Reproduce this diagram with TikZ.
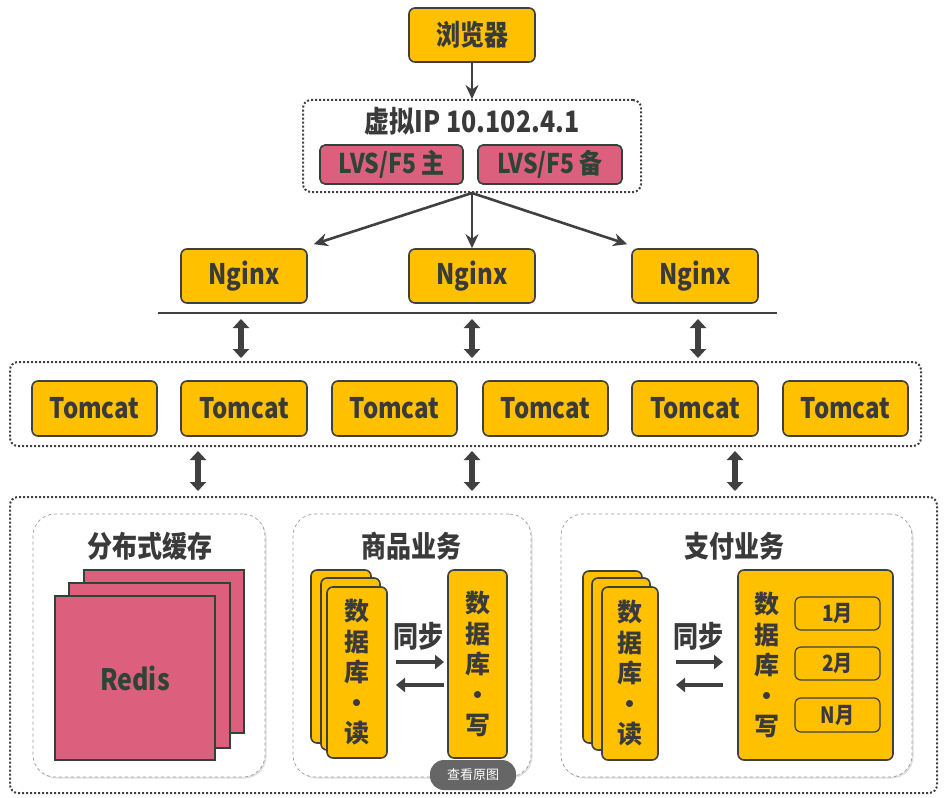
\documentclass[tikz,border=0pt]{standalone}
\usepackage{fontspec}
\setmainfont{Noto Sans CJK SC}
\usetikzlibrary{arrows.meta,shadows}
\definecolor{org}{HTML}{FFC000}
\definecolor{pnk}{HTML}{DC607D}
\definecolor{edg}{HTML}{404040}
\definecolor{txt}{HTML}{3A3A3A}
\definecolor{grn}{HTML}{2E4436}
\newcommand{\tl}[1]{\scalebox{1}[1.18]{#1}}
\tikzset{
  obox/.style={draw=edg, fill=org, line width=1.6pt, rounded corners=6pt, text=txt, font=\fontsize{24}{24}\selectfont\bfseries, inner sep=0pt},
  pbox/.style={draw=grn, fill=pnk, line width=1.6pt, rounded corners=5pt, text=grn, font=\fontsize{23}{23}\selectfont\bfseries, inner sep=0pt},
  dotbox/.style={draw=edg, line width=2pt, dotted, rounded corners=8pt},
  inbox/.style={draw=gray!80, line width=0.7pt, dashed, rounded corners=22pt, fill=white, drop shadow={opacity=0.25, shadow xshift=1.5pt, shadow yshift=-1.5pt}},
  ttl/.style={text=txt, font=\fontsize{25}{25}\selectfont\bfseries, inner sep=0pt},
  arr/.style={draw=edg, line width=2.6pt, -{Stealth[length=14pt,width=13pt]}},
  darr/.style={draw=edg, line width=5.5pt, {Triangle[length=9pt,width=16pt]}-{Triangle[length=9pt,width=16pt]}},
  sarr/.style={draw=edg, line width=3.4pt, -{Triangle[length=9pt,width=14pt]}},
  vtext/.style={align=center, text=txt, font=\fontsize{25}{30.5}\selectfont\bfseries, inner sep=0pt},
  sqr/.style={draw=grn, fill=pnk, line width=2pt},
}
\begin{document}
\begin{tikzpicture}[x=1pt,y=-1pt]
\useasboundingbox (0,0) rectangle (949,797);
% browser
\node[obox, minimum width=126pt, minimum height=54pt] (browser) at (472,35) {\tl{浏览器}};
% virtual ip
\node[dotbox, minimum width=338pt, minimum height=92pt] (vip) at (472,146) {};
\node[ttl] (viptitle) at (472,121) {\tl{虚拟IP 10.102.4.1}};
\node[pbox, minimum width=143pt, minimum height=39pt] (lvs1) at (391.5,164.5) {\tl{LVS/F5 主}};
\node[pbox, minimum width=144pt, minimum height=39pt] (lvs2) at (550,164.5) {\tl{LVS/F5 备}};
\draw[arr] (browser.south) -- (vip.north);
% nginx
\node[obox, minimum width=126pt, minimum height=54pt] (ng1) at (244,276) {\tl{Nginx}};
\node[obox, minimum width=126pt, minimum height=54pt] (ng2) at (472,276) {\tl{Nginx}};
\node[obox, minimum width=126pt, minimum height=54pt] (ng3) at (695,276) {\tl{Nginx}};
\draw[arr] (vip.south) -- ([xshift=6pt,yshift=4pt]ng1.north east);
\draw[arr] (vip.south) -- (ng2.north);
\draw[arr] (vip.south) -- ([xshift=-4pt,yshift=4pt]ng3.north west);
\coordinate (busL) at (158,313);
\coordinate (busR) at (777,313);
\draw[edg, line width=2.6pt] (busL) -- (busR);
% tomcat group
\node[dotbox, minimum width=911pt, minimum height=84pt] (tgrp) at (465.5,404) {};
\node[obox, minimum width=125pt, minimum height=55pt] (t1) at (94.5,408.5) {\tl{Tomcat}};
\node[obox, minimum width=126pt, minimum height=55pt] (t2) at (244,408.5) {\tl{Tomcat}};
\node[obox, minimum width=125pt, minimum height=55pt] (t3) at (394.5,408.5) {\tl{Tomcat}};
\node[obox, minimum width=125pt, minimum height=55pt] (t4) at (545.5,408.5) {\tl{Tomcat}};
\node[obox, minimum width=126pt, minimum height=55pt] (t5) at (695,408.5) {\tl{Tomcat}};
\node[obox, minimum width=125pt, minimum height=55pt] (t6) at (845.5,408.5) {\tl{Tomcat}};
\coordinate (a1t) at (241,319); \coordinate (a1b) at (241,358);
\coordinate (a2t) at (472,319); \coordinate (a2b) at (472,358);
\coordinate (a3t) at (698,319); \coordinate (a3b) at (698,358);
\draw[darr] (a1t) -- (a1b);
\draw[darr] (a2t) -- (a2b);
\draw[darr] (a3t) -- (a3b);
\coordinate (b1t) at (198,451); \coordinate (b1b) at (198,491);
\coordinate (b2t) at (472,451); \coordinate (b2b) at (472,491);
\coordinate (b3t) at (735,451); \coordinate (b3b) at (735,491);
\draw[darr] (b1t) -- (b1b);
\draw[darr] (b2t) -- (b2b);
\draw[darr] (b3t) -- (b3b);
% bottom group
\node[dotbox, minimum width=927pt, minimum height=296pt] (bgrp) at (473.5,645) {};
\node[inbox, minimum width=232pt, minimum height=263pt] (cache) at (149,645.5) {};
\node[inbox, minimum width=238pt, minimum height=263pt] (prod) at (412,645.5) {};
\node[inbox, minimum width=351pt, minimum height=263pt] (pay) at (736.5,645.5) {};
\node[ttl] (cachet) at (150,546) {\tl{分布式缓存}};
\node[ttl] (prodt) at (411,546) {\tl{商品业务}};
\node[ttl] (payt) at (734,546) {\tl{支付业务}};
% redis
\node[sqr, minimum width=160pt, minimum height=163pt, inner sep=0pt] (r3) at (164,651.5) {};
\node[sqr, minimum width=161pt, minimum height=165pt, inner sep=0pt] (r2) at (149.5,665.5) {};
\node[sqr, minimum width=160pt, minimum height=164pt, inner sep=0pt, text=grn, font=\fontsize{25}{25}\selectfont\bfseries] (r1) at (135,678) {\tl{Redis}};
% product dbs
\node[obox, minimum width=60pt, minimum height=173pt] (pr3) at (341,656.5) {};
\node[obox, minimum width=59pt, minimum height=172pt] (pr2) at (350.5,664) {};
\node[obox, minimum width=60pt, minimum height=171pt, vtext] (pr1) at (357,672.5) {数\\据\\库\\·\\读};
\node[obox, minimum width=59pt, minimum height=188pt, vtext] (pw) at (477.5,664) {数\\据\\库\\·\\写};
\node[ttl] (psync) at (418,636) {\tl{同步}};
\coordinate (ps1) at (396,662); \coordinate (ps2) at (444,662);
\coordinate (ps3) at (444,685); \coordinate (ps4) at (396,685);
\draw[sarr] (ps1) -- (ps2);
\draw[sarr] (ps3) -- (ps4);
% pay dbs
\node[obox, minimum width=59pt, minimum height=172pt] (yr3) at (612.5,657) {};
\node[obox, minimum width=58pt, minimum height=172pt] (yr2) at (621,664) {};
\node[obox, minimum width=56pt, minimum height=173pt, vtext] (yr1) at (630,673.5) {数\\据\\库\\·\\读};
\node[obox, minimum width=155pt, minimum height=190pt] (yw) at (815.5,665) {};
\node[vtext] (ywt) at (767,665) {数\\据\\库\\·\\写};
\node[obox, line width=1.2pt, minimum width=85pt, minimum height=33pt, font=\fontsize{19}{19}\selectfont\bfseries] (m1) at (837.5,613.5) {\tl{1月}};
\node[obox, line width=1.2pt, minimum width=85pt, minimum height=33pt, font=\fontsize{19}{19}\selectfont\bfseries] (m2) at (837.5,663.5) {\tl{2月}};
\node[obox, line width=1.2pt, minimum width=85pt, minimum height=34pt, font=\fontsize{19}{19}\selectfont\bfseries] (m3) at (837.5,715) {\tl{N月}};
\node[ttl] (ysync) at (698,636) {\tl{同步}};
\coordinate (ys1) at (676,662); \coordinate (ys2) at (723,662);
\coordinate (ys3) at (723,685); \coordinate (ys4) at (676,685);
\draw[sarr] (ys1) -- (ys2);
\draw[sarr] (ys3) -- (ys4);
% overlay button
\node[fill=gray!80!black, rounded corners=14pt, minimum width=86pt, minimum height=30pt, text=white, font=\fontsize{13}{13}\selectfont, inner sep=0pt] (btn) at (473,775) {查看原图};
\end{tikzpicture}
\end{document}
